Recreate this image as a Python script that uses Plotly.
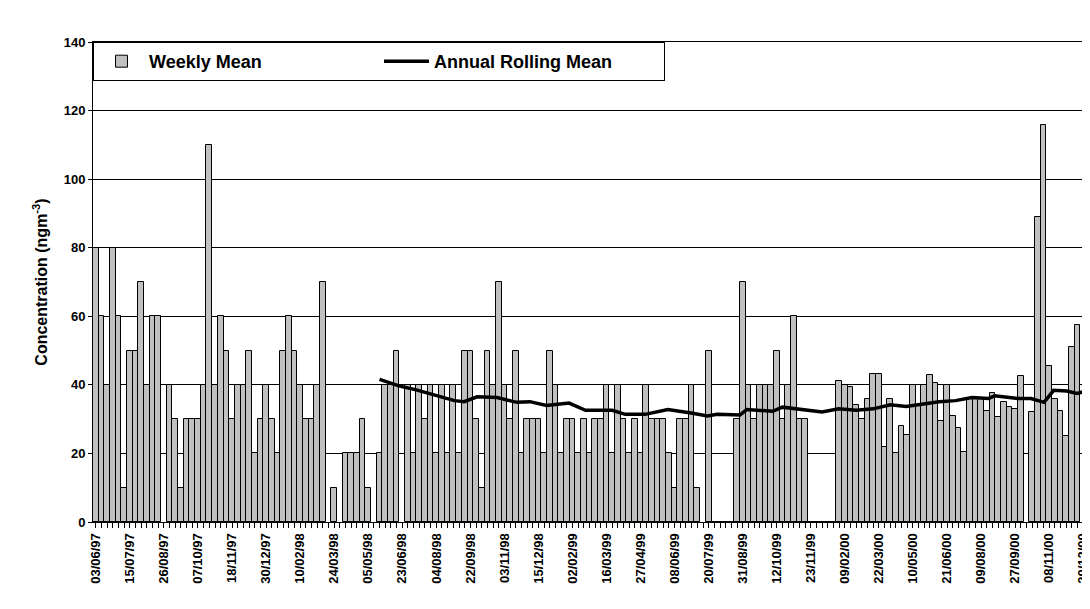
import plotly.graph_objects as go

# wöchentliche Mittelwerte (None = keine Messung)
weekly_mean = [
    80, 60, 40, 80, 60, 10, 50, 50, 70, 40, 60, 60, None, 40, 30, 10, 30, 30, 30, 40,
    110, 40, 60, 50, 30, 40, 40, 50, 20, 30, 40, 30, 20, 50, 60, 50, 40, 30, 30, 40,
    70, None, 10, None, 20,
    20, 20, 30, 10, None, 20, 40, 40, 50, None, 40, 20, 40, 30, 40, 20, 40, 20, 40, 20,
    50, 50, 30, 10, 50, 40, 70, 40, 30, 50, 20, 30, 30, 30, 20, 50, 40, 20, 30, 30,
    20, 30, 20,
    30, 30, 40, 20, 40, 30, 20, 30, 20, 40, 30, 30, 30, 20, 10, 30, 30, 40, 10, None,
    50, 0, 0, 0, 0, 30, 70, 40, 30, 40, 40, 40, 50, 30, 40, 60, 30, 30, 0, 0,
    0, 0, 0, 41,
    40, 39.5, 34, 30, 36, 43.2, 43.2, 22, 36, 20, 28, 25.5, 40, 34, 40, 43, 40.5, 29.5,
    40, 31, 27.5, 20.5, 36, 36, 36, 32.5, 37.5, 30.5, 35, 33.5, 33, 42.7, None, 32, 89,
    115.7, 45.5, 36, 32.5, 25, 51, 57.5,
]

# gleitendes Jahresmittel (Index, Wert)
rolling_idx = [50, 53.4, 56.3, 60.3, 63.2, 64.9, 67.2, 70.7, 74.2, 76.5, 79.4, 83.4, 86.3,
               91, 93.3, 96.8, 100.8, 104.9, 107.8, 109.5, 113.5, 114.7, 119.3, 121, 125, 128, 130.9,
               134, 137, 140, 142.8, 145.7, 148.6, 151.5, 154.4, 157.3, 158.4, 162.5, 164.8, 167.1,
               168.8, 171.1, 172.9, 174.6]
rolling_mean = [41.6, 39.7, 38.6, 36.8, 35.4, 35.1, 36.5, 36.3, 34.9, 35.1, 34.0, 34.7, 32.6,
                32.6, 31.4, 31.4, 32.8, 31.8, 30.9, 31.4, 31.2, 32.8, 32.3, 33.5, 32.8, 32.1, 33.0,
                32.6, 33.0, 34.2, 33.7, 34.4, 35.1, 35.4, 36.3, 36.0, 36.8, 36.0, 36.0, 34.9,
                38.4, 38.2, 37.5, 38.2]

tick_labels = ["03/06/97", "15/07/97", "26/08/97", "07/10/97", "18/11/97", "30/12/97",
               "10/02/98", "24/03/98", "05/05/98", "23/06/98", "04/08/98", "22/09/98",
               "03/11/98", "15/12/98", "02/02/99", "16/03/99", "27/04/99", "08/06/99",
               "20/07/99", "31/08/99", "12/10/99", "23/11/99", "09/02/00", "22/03/00",
               "10/05/00", "21/06/00", "09/08/00", "27/09/00", "08/11/00", "20/12/00"]

x = list(range(len(weekly_mean)))
font = "Liberation Sans, Arial, sans-serif"

fig = go.Figure()
fig.add_trace(go.Bar(
    x=x, y=weekly_mean, name="<b>Weekly Mean</b>",
    marker=dict(color="#c0c0c0", line=dict(color="black", width=1)),
))
fig.add_trace(go.Scatter(
    x=rolling_idx, y=rolling_mean, mode="lines", name="<b>Annual Rolling Mean</b>",
    line=dict(color="black", width=3.5),
))

# Seite hat 8px Rand, daher Ränder entsprechend verschoben
fig.update_layout(
    width=1090, height=609,
    paper_bgcolor="white", plot_bgcolor="white",
    margin=dict(l=85, r=8, t=34, b=95, autoexpand=False),
    bargap=0,
    font=dict(family=font, size=12, color="black"),
    showlegend=True,
    legend=dict(
        x=0, y=1, xanchor="left", yanchor="top", orientation="h",
        bordercolor="black", borderwidth=1, bgcolor="white",
        font=dict(size=18, family=font), entrywidth=225,
        itemwidth=45, tracegroupgap=0,
    ),
    xaxis=dict(
        range=[-0.5, 175.2], automargin=False,
        tickmode="array", tickvals=[i * 6 for i in range(len(tick_labels))],
        ticktext=["<b>%s</b>" % t for t in tick_labels],
        tickangle=-90, ticks="outside", ticklen=5, tickcolor="black",
        minor=dict(dtick=1, tick0=0, ticks="outside", ticklen=5, tickcolor="black"),
        showgrid=False, showline=True, linecolor="black", linewidth=1, mirror=True,
        tickfont=dict(size=13),
    ),
    yaxis=dict(
        range=[0, 140], dtick=20, showgrid=True, gridcolor="black", gridwidth=1,
        showline=True, linecolor="black", linewidth=1, mirror=True, automargin=False,
        ticks="outside", ticklen=4, tickcolor="black",
        tickfont=dict(size=13), tickprefix="<b>", ticksuffix="</b>",
        title=dict(text="<b>Concentration (ngm<sup>-3</sup>)</b>", font=dict(size=16), standoff=12),
        zeroline=False,
    ),
)

fig.write_html("out.html")
